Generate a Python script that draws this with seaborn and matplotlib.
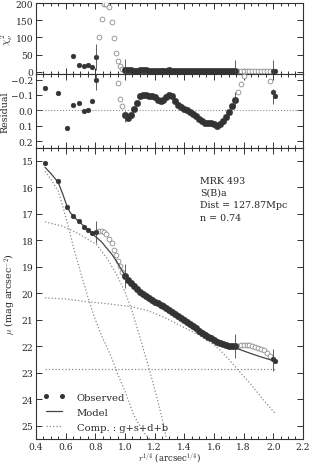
import numpy as np
import pandas as pd
import seaborn as sns
import matplotlib.pyplot as plt
from matplotlib.lines import Line2D
from matplotlib.ticker import MultipleLocator

# ---- observed points, r^(1/4) in arcsec^(1/4) ----
# inner filled points
x_in = [0.461, 0.550, 0.607, 0.652, 0.692, 0.726, 0.753, 0.778, 0.802]
mu_in = [15.09, 15.78, 16.74, 17.10, 17.29, 17.51, 17.63, 17.73, 17.68]
res_in = [-0.146, -0.115, 0.112, -0.032, -0.050, 0.007, 0.000, -0.060, -0.200]
chi_in = [300, 300, 300, 45, 20, 18, 20, 14, 43]

# excluded points between 0.8 and 1.0
x_ex1 = [0.825, 0.843, 0.860, 0.870, 0.894, 0.912, 0.926, 0.940, 0.953, 0.966, 0.980]
mu_ex1 = [17.65, 17.66, 17.70, 17.76, 17.95, 18.12, 18.36, 18.55, 18.77, 18.99, 19.20]
res_ex1 = [-0.60, -0.60, -0.60, -0.60, -0.55, -0.45, -0.40, -0.30, -0.176, -0.076, -0.028]
chi_ex1 = [102, 153, 197, 197, 190, 144, 98, 55, 30, 18, 9]

# fitted range 1.0 - 1.74
x_mid = [1.00, 1.02, 1.04, 1.06, 1.08, 1.10, 1.12, 1.14, 1.16, 1.18,
         1.20, 1.22, 1.24, 1.26, 1.28, 1.30, 1.32, 1.34, 1.36, 1.38,
         1.40, 1.42, 1.44, 1.46, 1.48, 1.50, 1.52, 1.54, 1.56, 1.58,
         1.60, 1.62, 1.64, 1.66, 1.68, 1.70, 1.72, 1.74]
mu_mid = [19.36, 19.50, 19.63, 19.74, 19.84, 19.94, 20.03, 20.11, 20.19, 20.26,
          20.32, 20.38, 20.44, 20.50, 20.57, 20.64, 20.71, 20.78, 20.85, 20.93,
          21.01, 21.09, 21.17, 21.25, 21.33, 21.41, 21.49, 21.57, 21.64, 21.71,
          21.78, 21.84, 21.89, 21.93, 21.96, 21.98, 21.99, 22.00]
res_mid = [0.030, 0.050, 0.030, -0.010, -0.050, -0.090, -0.100, -0.100, -0.095, -0.090,
           -0.085, -0.070, -0.060, -0.070, -0.085, -0.100, -0.090, -0.060, -0.035, -0.020,
           -0.010, 0.000, 0.010, 0.025, 0.040, 0.055, 0.070, 0.080, 0.085, 0.085,
           0.090, 0.105, 0.090, 0.070, 0.045, 0.010, -0.030, -0.070]
chi_mid = [5, 4, 4, 3, 3, 4, 4, 4, 3, 3,
           3, 3, 3, 3, 3, 4, 3, 3, 2, 2,
           2, 2, 2, 2, 2, 3, 3, 3, 3, 3,
           3, 3, 3, 3, 2, 2, 2, 3]

# excluded outer points
x_ex2 = [1.76, 1.78, 1.80, 1.82, 1.84, 1.86, 1.88, 1.90, 1.92, 1.94, 1.96, 1.98]
mu_ex2 = [21.99, 21.97, 21.97, 21.96, 21.97, 21.99, 22.02, 22.06, 22.10, 22.15, 22.25, 22.38]
res_ex2 = [-0.12, -0.17, -0.22, -0.30, -0.35, -0.38, -0.40, -0.40, -0.38, -0.33, -0.26, -0.19]
chi_ex2 = [3, 3, 3, 3, 3, 3, 3, 3, 3, 3, 3, 3]

# last filled points
x_out = [2.000, 2.010]
mu_out = [22.50, 22.56]
res_out = [-0.120, -0.090]
chi_out = [3, 3]

# fit boundary markers
x_lim = [0.802, 1.00, 1.742, 2.00]
chi_lim = [43, 5, 5, 5]
chi_err = [38, 33, 28, 28]
res_lim = [-0.20, 0.04, -0.07, -0.09]
res_err = [0.07, 0.035, 0.05, 0.05]
mu_lim = [17.70, 19.36, 22.00, 22.52]
mu_err = [0.42, 0.45, 0.45, 0.40]

# ---- model and components ----
x_model = [0.461, 0.50, 0.55, 0.58, 0.607, 0.63, 0.652, 0.69, 0.72, 0.76,
           0.798, 0.84, 0.877, 0.91, 0.944, 0.97, 1.00, 1.04, 1.08, 1.12,
           1.16, 1.20, 1.25, 1.30, 1.35, 1.40, 1.45, 1.50, 1.55, 1.60,
           1.65, 1.70, 1.742, 1.80, 1.86, 1.92, 2.00]
mu_model = [15.25, 15.48, 15.82, 16.25, 16.68, 16.95, 17.10, 17.30, 17.45, 17.65,
            17.85, 18.05, 18.30, 18.52, 18.80, 19.05, 19.33, 19.60, 19.88, 20.12,
            20.28, 20.40, 20.56, 20.73, 20.88, 21.02, 21.15, 21.35, 21.50, 21.69,
            21.82, 21.97, 22.06, 22.18, 22.30, 22.41, 22.55]

x_bulge = [0.461, 0.50, 0.55, 0.584, 0.618, 0.652, 0.70, 0.753, 0.80, 0.85,
           0.90, 0.955, 1.00, 1.06, 1.12, 1.18]
mu_bulge = [15.40, 15.70, 16.15, 16.78, 17.48, 18.25, 19.20, 20.20, 21.00, 21.70,
            22.30, 23.10, 23.70, 24.60, 25.20, 25.60]

x_bar = [0.461, 0.584, 0.697, 0.809, 0.877, 0.944, 1.00, 1.05, 1.10, 1.15,
         1.20, 1.25, 1.28]
mu_bar = [17.31, 17.48, 17.79, 18.17, 18.67, 19.30, 19.95, 20.70, 21.65, 22.60,
          23.60, 24.70, 25.50]

x_disk = [0.461, 0.60, 0.72, 0.85, 1.034, 1.15, 1.26, 1.40, 1.50, 1.60,
          1.65, 1.70, 1.76, 1.85, 1.93, 2.01]
mu_disk = [20.18, 20.22, 20.31, 20.38, 20.50, 20.65, 20.90, 21.30, 21.58, 21.95,
           22.20, 22.50, 22.88, 23.45, 24.00, 24.52]

x_back = [0.461, 2.01]
mu_back = [22.88, 22.88]

info = ["MRK 493", "S(B)a", "Dist = 127.87Mpc", "n = 0.74"]

sns.set_style("ticks")
plt.rcParams['font.family'] = ['DejaVu Serif']
plt.rcParams['mathtext.fontset'] = 'cm'
plt.rcParams['font.size'] = 7

FILL = '#333333'
OPEN = '#8c8c8c'
DOT = '#8a8a8a'

fig = plt.figure(figsize=(3.10, 4.64), dpi=100)
L, W = 0.116, 0.861
ax_chi = fig.add_axes([L, 0.838, W, 0.153])
ax_res = fig.add_axes([L, 0.679, W, 0.159])
ax_mu = fig.add_axes([L, 0.052, W, 0.627])


def draw_points(ax, yin, yex1, ymid, yex2, yout, ylim, yerr):
    for xs, ys in [(x_ex1, yex1), (x_ex2, yex2)]:
        sns.scatterplot(x=xs, y=ys, ax=ax, color='white', edgecolor=OPEN,
                        linewidth=0.6, s=12, zorder=3)
    sns.scatterplot(x=x_mid, y=ymid, ax=ax, color=FILL, edgecolor=FILL,
                    linewidth=0.3, s=22, zorder=4)
    for xs, ys in [(x_in, yin), (x_out, yout)]:
        sns.scatterplot(x=xs, y=ys, ax=ax, color=FILL, edgecolor=FILL,
                        linewidth=0.3, s=12, zorder=4)
    ax.errorbar(x_lim, ylim, yerr=yerr, fmt='none', ecolor='#444444',
                elinewidth=0.6, zorder=5)


draw_points(ax_chi, chi_in, chi_ex1, chi_mid, chi_ex2, chi_out, chi_lim, chi_err)
draw_points(ax_res, res_in, res_ex1, res_mid, res_ex2, res_out, res_lim, res_err)
draw_points(ax_mu, mu_in, mu_ex1, mu_mid, mu_ex2, mu_out, mu_lim, mu_err)

ax_res.axhline(0, color=DOT, ls=':', lw=0.8, zorder=1)

for xs, ys in [(x_bulge, mu_bulge), (x_bar, mu_bar), (x_disk, mu_disk), (x_back, mu_back)]:
    sns.lineplot(x=xs, y=ys, ax=ax_mu, color=DOT, linestyle=':', lw=0.9,
                 estimator=None, sort=False, zorder=2)
sns.lineplot(x=x_model, y=mu_model, ax=ax_mu, color='#444444', lw=0.9,
             estimator=None, sort=False, zorder=3)

for ax in (ax_chi, ax_res, ax_mu):
    ax.set_xlim(0.4, 2.2)
    ax.xaxis.set_major_locator(MultipleLocator(0.2))
    ax.xaxis.set_minor_locator(MultipleLocator(0.05))
    ax.tick_params(which='both', direction='in', top=True, right=True,
                   labelsize=6.6, color='#333333', width=0.7, pad=2)
    ax.tick_params(which='major', length=4)
    ax.tick_params(which='minor', length=2.2)
    for sp in ax.spines.values():
        sp.set_linewidth(0.8)
        sp.set_color('#333333')

ax_chi.set_ylim(-7, 200)
ax_chi.yaxis.set_major_locator(MultipleLocator(50))
ax_chi.tick_params(labelbottom=False)
ax_chi.set_ylabel(r'$\chi^2_\nu$', fontsize=7.5)
ax_chi.yaxis.set_label_coords(-0.077, 0.5)

ax_res.set_ylim(0.245, -0.235)
ax_res.yaxis.set_major_locator(MultipleLocator(0.1))
ax_res.tick_params(labelbottom=False)
ax_res.set_ylabel('Residual', fontsize=6.8)
ax_res.yaxis.set_label_coords(-0.098, 0.5)

ax_mu.set_ylim(25.5, 14.52)
ax_mu.yaxis.set_major_locator(MultipleLocator(1))
ax_mu.set_ylabel(r'$\mu$ (mag arcsec$^{-2}$)', fontsize=6.8)
ax_mu.yaxis.set_label_coords(-0.068, 0.5)
ax_mu.set_xlabel(r'$r^{1/4}$ (arcsec$^{1/4}$)', fontsize=6.2, labelpad=0)

for i, line in enumerate(info):
    ax_mu.text(1.506, 15.73 + i * 0.47, line, fontsize=6.8, va='center', ha='left')

handles = [Line2D([], [], ls='none', marker='o', color=FILL, markersize=2.6),
           Line2D([], [], color='#444444', lw=0.9),
           Line2D([], [], color=DOT, ls=':', lw=0.9)]
ax_mu.legend(handles, ['Observed', 'Model', 'Comp. : g+s+d+b'], loc='lower left',
             frameon=False, numpoints=2, fontsize=7.2, handlelength=2.2,
             borderaxespad=0.3, labelspacing=0.6, handletextpad=1.2)

fig.savefig('out.png', dpi=100)
